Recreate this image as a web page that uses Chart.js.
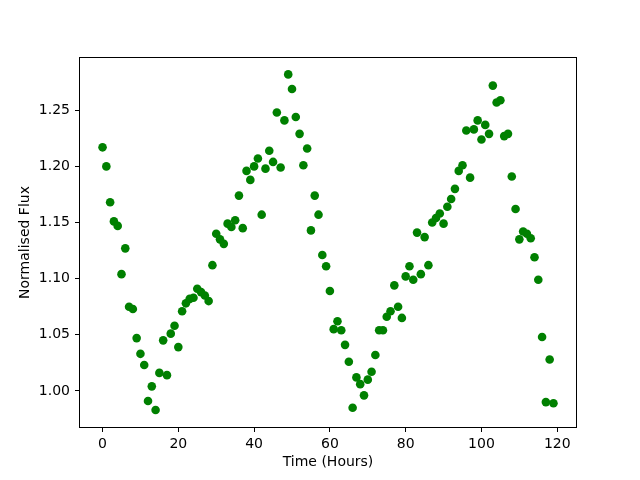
<!DOCTYPE html>
<html>
<head>
<meta charset="utf-8">
<script src="https://cdn.jsdelivr.net/npm/chart.js@4"></script>
<style>
  html, body { margin: 0; padding: 0; background: #fff; }
  canvas { display: block; }
</style>
</head>
<body>
<canvas id="fluxChart" width="640" height="480"></canvas>
<script>
const hours = [
  0, 1, 2, 3, 4, 5, 6, 7, 8, 9, 10, 11, 12, 13, 14, 15, 16, 17, 18, 19,
  20, 21, 22, 23, 24, 25, 26, 27, 28, 29, 30, 31, 32, 33, 34, 35, 36, 37, 38, 39,
  40, 41, 42, 43, 44, 45, 46, 47, 48, 49, 50, 51, 52, 53, 54, 55, 56, 57, 58, 59,
  60, 61, 62, 63, 64, 65, 66, 67, 68, 69, 70, 71, 72, 73, 74, 75, 76, 77, 78, 79,
  80, 81, 82, 83, 84, 85, 86, 87, 88, 89, 90, 91, 92, 93, 94, 95, 96, 97, 98, 99,
  100, 101, 102, 103, 104, 105, 106, 107, 108, 109, 110, 111, 112, 113, 114, 115, 116, 117, 118, 119
];
const flux = [
  1.217, 1.200, 1.168, 1.151, 1.147, 1.104, 1.127, 1.075, 1.073, 1.047,
  1.033, 1.023, 0.991, 1.004, 0.983, 1.016, 1.045, 1.014, 1.051, 1.058,
  1.039, 1.071, 1.078, 1.082, 1.083, 1.091, 1.088, 1.085, 1.080, 1.112,
  1.140, 1.135, 1.131, 1.149, 1.146, 1.152, 1.174, 1.145, 1.196, 1.188,
  1.200, 1.207, 1.157, 1.198, 1.214, 1.204, 1.248, 1.199, 1.241, 1.282,
  1.269, 1.244, 1.229, 1.201, 1.216, 1.143, 1.174, 1.157, 1.121, 1.111,
  1.089, 1.055, 1.062, 1.054, 1.041, 1.026, 0.985, 1.012, 1.006, 0.996,
  1.010, 1.017, 1.032, 1.054, 1.054, 1.066, 1.071, 1.094, 1.075, 1.065,
  1.102, 1.111, 1.099, 1.141, 1.104, 1.137, 1.112, 1.150, 1.154, 1.158,
  1.149, 1.164, 1.171, 1.180, 1.196, 1.201, 1.232, 1.190, 1.233, 1.241,
  1.224, 1.237, 1.229, 1.272, 1.257, 1.259, 1.227, 1.229, 1.191, 1.162,
  1.135, 1.142, 1.140, 1.136, 1.119, 1.099, 1.048, 0.990, 1.028, 0.989
];
const xTicks = [0, 20, 40, 60, 80, 100, 120];
const yTicks = [1.00, 1.05, 1.10, 1.15, 1.20, 1.25];

const points = hours.map((h, i) => ({ x: h, y: flux[i] }));

// matplotlib-style closed frame round the plot area
const frame = {
  id: "frame",
  afterDraw(chart) {
    const a = chart.chartArea;
    const ctx = chart.ctx;
    ctx.save();
    ctx.strokeStyle = "#000";
    ctx.lineWidth = 1;
    ctx.strokeRect(Math.round(a.left) - 0.5, Math.round(a.top) - 0.5,
      Math.round(a.right - a.left) + 1, Math.round(a.bottom - a.top) + 1);
    ctx.restore();
  }
};

const font = { family: "DejaVu Sans", size: 14 };

new Chart(document.getElementById("fluxChart").getContext("2d"), {
  type: "scatter",
  data: {
    datasets: [{
      data: points,
      backgroundColor: "#008000",
      borderWidth: 0,
      pointRadius: 4.3
    }]
  },
  options: {
    responsive: false,
    animation: false,
    events: [],
    layout: { padding: { top: 58, right: 64, bottom: 0, left: 0 } },
    plugins: { legend: { display: false }, tooltip: { enabled: false } },
    scales: {
      x: {
        type: "linear",
        min: -5.95,
        max: 124.95,
        afterBuildTicks: s => { s.ticks = xTicks.map(v => ({ value: v })); },
        afterFit: s => { s.height = 53; },
        border: { display: false },
        grid: { drawOnChartArea: false, drawTicks: true, tickLength: 5, tickColor: "#000", tickWidth: 1 },
        ticks: { color: "#000", font: font, padding: 4, maxRotation: 0 },
        title: { display: true, text: "Time (Hours)", color: "#000", font: font, padding: { top: 0, bottom: 9 } }
      },
      y: {
        type: "linear",
        min: 0.9678,
        max: 1.2966,
        afterBuildTicks: s => { s.ticks = yTicks.map(v => ({ value: v })); },
        afterFit: s => { s.width = 80; },
        border: { display: false },
        grid: { drawOnChartArea: false, drawTicks: true, tickLength: 5, tickColor: "#000", tickWidth: 1 },
        ticks: { color: "#000", font: font, padding: 5, callback: v => v.toFixed(2) },
        title: { display: true, text: "Normalised Flux", color: "#000", font: font, padding: { top: 17, bottom: 0 } }
      }
    }
  },
  plugins: [frame]
});
</script>
</body>
</html>
